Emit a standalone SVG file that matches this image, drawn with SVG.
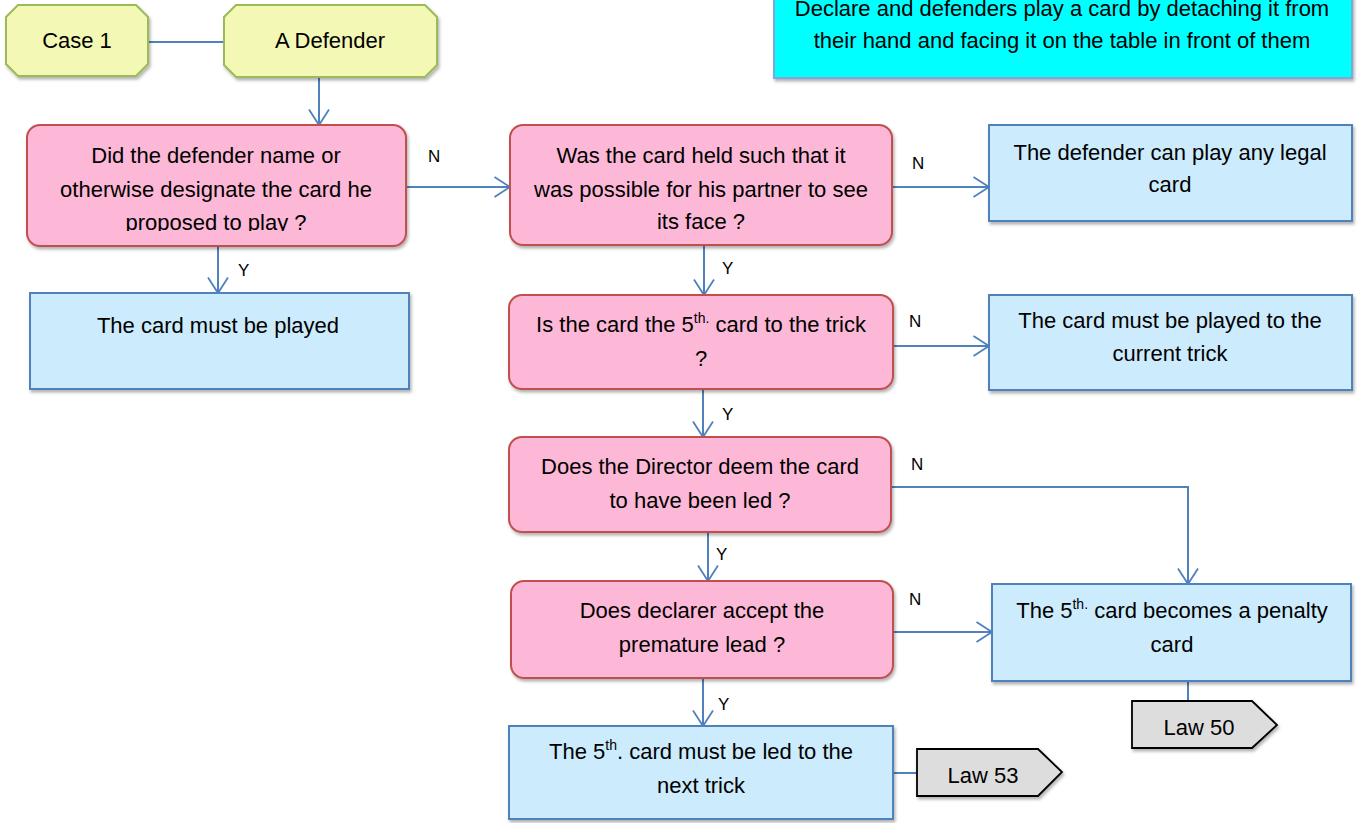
<svg xmlns="http://www.w3.org/2000/svg" width="1357" height="823" viewBox="0 0 1357 823">
<defs>
<filter id="sh" x="-10%" y="-10%" width="120%" height="130%"><feDropShadow dx="1.5" dy="2.5" stdDeviation="1.5" flood-color="#000" flood-opacity="0.3"/></filter>
<marker id="ah" markerUnits="userSpaceOnUse" viewBox="0 0 18 22" markerWidth="18" markerHeight="22" refX="16.5" refY="11" orient="auto"><path d="M1,1 L16.5,11 L1,21" fill="none" stroke="#4F81BD" stroke-width="1.8"/></marker>
<clipPath id="clip1"><rect x="27" y="125" width="380" height="106"/></clipPath>
</defs>
<style>
text{font-family:"Liberation Sans",Arial,sans-serif;font-size:22px;fill:#000;text-anchor:middle}
.lbl{font-size:17px;text-anchor:start}
.oct{fill:#F3F8B4;stroke:#9BBB59;stroke-width:2}
.pink{fill:#FCB8D6;stroke:#C0504D;stroke-width:2}
.blue{fill:#CCEBFC;stroke:#4F81BD;stroke-width:2}
.cyan{fill:#00FFFF;stroke:#7FA8D8;stroke-width:2}
.law{fill:#DDDDDD;stroke:#000;stroke-width:1.8}
.c{fill:none;stroke:#4F81BD;stroke-width:2}
.sup{font-size:14px}
</style>
<g id="connectors">
<path class="c" d="M148,42 L224,42"/>
<path class="c" d="M319,77 L319,125" marker-end="url(#ah)"/>
<path class="c" d="M218,246 L218,293" marker-end="url(#ah)"/>
<path class="c" d="M406,187 L510,187" marker-end="url(#ah)"/>
<path class="c" d="M892,187 L989,187" marker-end="url(#ah)"/>
<path class="c" d="M704,245 L704,295" marker-end="url(#ah)"/>
<path class="c" d="M893,346 L989,346" marker-end="url(#ah)"/>
<path class="c" d="M703,389 L703,437" marker-end="url(#ah)"/>
<path class="c" d="M891,487 L1188,487 L1188,584" marker-end="url(#ah)"/>
<path class="c" d="M708,532 L708,581" marker-end="url(#ah)"/>
<path class="c" d="M893,632 L992,632" marker-end="url(#ah)"/>
<path class="c" d="M1188,681 L1188,701"/>
<path class="c" d="M703,678 L703,726" marker-end="url(#ah)"/>
<path class="c" d="M893,773 L917,773"/>
<text class="lbl" x="428" y="162">N</text>
<text class="lbl" x="238" y="276">Y</text>
<text class="lbl" x="912" y="169">N</text>
<text class="lbl" x="722" y="274">Y</text>
<text class="lbl" x="909" y="327">N</text>
<text class="lbl" x="722" y="420">Y</text>
<text class="lbl" x="911" y="470">N</text>
<text class="lbl" x="716" y="560">Y</text>
<text class="lbl" x="909" y="605">N</text>
<text class="lbl" x="718" y="710">Y</text>
</g>
<g id="case1">
<polygon class="oct" filter="url(#sh)" points="18,5 136,5 148,17 148,64 136,76 18,76 6,64 6,17"/>
<text x="77" y="48">Case 1</text>
</g>
<g id="defender">
<polygon class="oct" filter="url(#sh)" points="236,5 425,5 437,17 437,65 425,77 236,77 224,65 224,17"/>
<text x="330" y="48">A Defender</text>
</g>
<g id="note">
<rect class="cyan" filter="url(#sh)" x="774" y="-10" width="578" height="88"/>
<text x="1062" y="16">Declare and defenders play a card by detaching it from</text>
<text x="1062" y="48">their hand and facing it on the table in front of them</text>
</g>
<g id="q1">
<rect class="pink" filter="url(#sh)" x="27" y="125" width="379" height="121" rx="13"/>
<text x="216" y="163">Did the defender name or</text>
<text x="216" y="197">otherwise designate the card he</text>
<text x="216" y="230" clip-path="url(#clip1)">proposed to play ?</text>
</g>
<g id="played">
<rect class="blue" filter="url(#sh)" x="30" y="293" width="379" height="96"/>
<text x="218" y="333">The card must be played</text>
</g>
<g id="q2">
<rect class="pink" filter="url(#sh)" x="510" y="125" width="382" height="120" rx="13"/>
<text x="701" y="163">Was the card held such that it</text>
<text x="701" y="197">was possible for his partner to see</text>
<text x="701" y="229">its face ?</text>
</g>
<g id="anylegal">
<rect class="blue" filter="url(#sh)" x="989" y="125" width="363" height="96"/>
<text x="1170" y="160">The defender can play any legal</text>
<text x="1170" y="192">card</text>
</g>
<g id="q3">
<rect class="pink" filter="url(#sh)" x="509" y="295" width="384" height="94" rx="13"/>
<text x="701" y="332">Is the card the 5<tspan class="sup" dy="-9">th.</tspan><tspan dy="9"> card to the trick</tspan></text>
<text x="701" y="366">?</text>
</g>
<g id="currenttrick">
<rect class="blue" filter="url(#sh)" x="989" y="295" width="363" height="95"/>
<text x="1170" y="328">The card must be played to the</text>
<text x="1170" y="361">current trick</text>
</g>
<g id="q4">
<rect class="pink" filter="url(#sh)" x="509" y="437" width="382" height="95" rx="13"/>
<text x="700" y="474">Does the Director deem the card</text>
<text x="700" y="508">to have been led ?</text>
</g>
<g id="q5">
<rect class="pink" filter="url(#sh)" x="511" y="581" width="382" height="97" rx="13"/>
<text x="702" y="618">Does declarer accept the</text>
<text x="702" y="652">premature lead ?</text>
</g>
<g id="penalty">
<rect class="blue" filter="url(#sh)" x="992" y="584" width="359" height="97"/>
<text x="1172" y="618">The 5<tspan class="sup" dy="-9">th.</tspan><tspan dy="9"> card becomes a penalty</tspan></text>
<text x="1172" y="652">card</text>
</g>
<g id="law50">
<polygon class="law" filter="url(#sh)" points="1132,701 1252,701 1277,725 1252,748 1132,748"/>
<text x="1199" y="735">Law 50</text>
</g>
<g id="ledtonext">
<rect class="blue" filter="url(#sh)" x="509" y="726" width="384" height="93"/>
<text x="701" y="759">The 5<tspan class="sup" dy="-9">th</tspan><tspan dy="9">. card must be led to the</tspan></text>
<text x="701" y="793">next trick</text>
</g>
<g id="law53">
<polygon class="law" filter="url(#sh)" points="917,749 1038,749 1062,772 1038,796 917,796"/>
<text x="983" y="783">Law 53</text>
</g>
</svg>
